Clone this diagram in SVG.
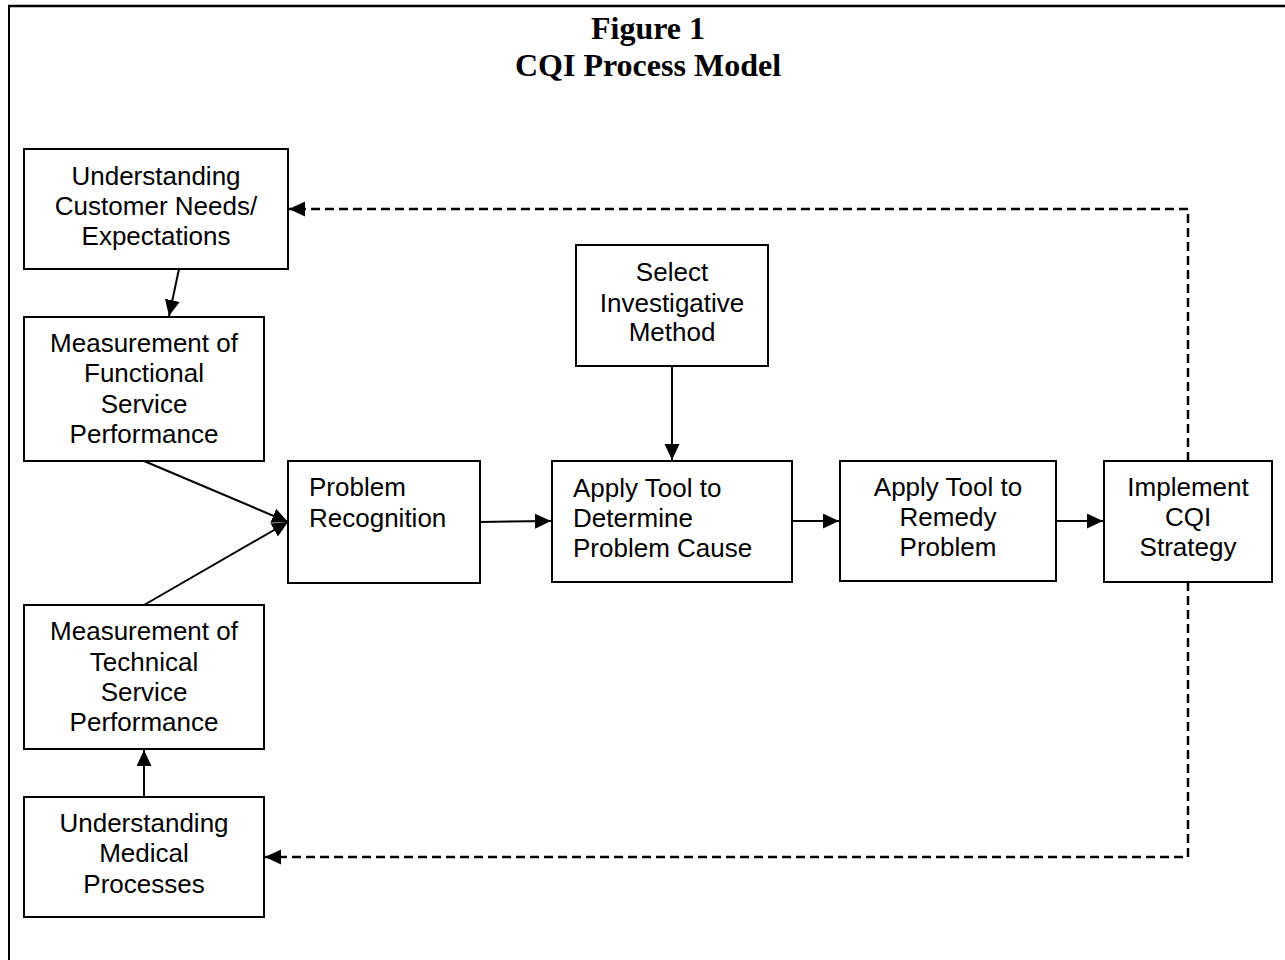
<svg xmlns="http://www.w3.org/2000/svg" width="1285" height="960" viewBox="0 0 1285 960">
  <style>
    .box { fill: #fff; stroke: #000; stroke-width: 2; }
    .lbl { font-family: "Liberation Sans", Arial, sans-serif; font-size: 26px; fill: #000; }
    .mid { text-anchor: middle; }
    .title { font-family: "Liberation Serif", "Times New Roman", serif; font-size: 32px; font-weight: bold; text-anchor: middle; fill: #000; }
    .link { fill: none; stroke: #000; stroke-width: 2; }
    .dash { stroke-width: 2.5; stroke-dasharray: 9 5; }
  </style>
  <defs>
    <marker id="arrow" markerUnits="userSpaceOnUse" markerWidth="17" markerHeight="16" refX="16" refY="7.5" orient="auto">
      <path d="M0,0 L16,7.5 L0,15 z" fill="#000"/>
    </marker>
  </defs>

  <rect width="1285" height="960" fill="#fff"/>

  <!-- page frame -->
  <g id="frame">
    <line x1="8" y1="6" x2="1285" y2="6" stroke="#000" stroke-width="2.5"/>
    <line x1="9" y1="5" x2="9" y2="960" stroke="#000" stroke-width="2"/>
  </g>

  <g id="heading">
    <text class="title" x="648" y="39">Figure 1</text>
    <text class="title" x="648" y="76">CQI Process Model</text>
  </g>

  <!-- connectors -->
  <g id="connectors">
    <line class="link" x1="179" y1="269" x2="169" y2="316" marker-end="url(#arrow)"/>
    <line class="link" x1="144" y1="461" x2="288" y2="522" marker-end="url(#arrow)"/>
    <line class="link" x1="144" y1="605" x2="288" y2="522" marker-end="url(#arrow)"/>
    <line class="link" x1="144" y1="797" x2="144" y2="750" marker-end="url(#arrow)"/>
    <line class="link" x1="480" y1="522" x2="551" y2="521" marker-end="url(#arrow)"/>
    <line class="link" x1="672" y1="366" x2="672" y2="460" marker-end="url(#arrow)"/>
    <line class="link" x1="792" y1="521" x2="839" y2="521" marker-end="url(#arrow)"/>
    <line class="link" x1="1056" y1="521" x2="1103" y2="521" marker-end="url(#arrow)"/>
    <polyline class="link dash" points="1188,461 1188,209 289,209" marker-end="url(#arrow)"/>
    <polyline class="link dash" points="1188,582 1188,857 265,857" marker-end="url(#arrow)"/>
  </g>

  <!-- nodes -->
  <g id="customer-needs">
    <rect class="box" x="24" y="149" width="264" height="120"/>
    <text class="lbl mid" x="156" y="185">Understanding</text>
    <text class="lbl mid" x="156" y="215">Customer Needs/</text>
    <text class="lbl mid" x="156" y="245">Expectations</text>
  </g>

  <g id="functional-performance">
    <rect class="box" x="24" y="317" width="240" height="144"/>
    <text class="lbl mid" x="144" y="352">Measurement of</text>
    <text class="lbl mid" x="144" y="382">Functional</text>
    <text class="lbl mid" x="144" y="413">Service</text>
    <text class="lbl mid" x="144" y="443">Performance</text>
  </g>

  <g id="technical-performance">
    <rect class="box" x="24" y="605" width="240" height="144"/>
    <text class="lbl mid" x="144" y="640">Measurement of</text>
    <text class="lbl mid" x="144" y="671">Technical</text>
    <text class="lbl mid" x="144" y="701">Service</text>
    <text class="lbl mid" x="144" y="731">Performance</text>
  </g>

  <g id="medical-processes">
    <rect class="box" x="24" y="797" width="240" height="120"/>
    <text class="lbl mid" x="144" y="832">Understanding</text>
    <text class="lbl mid" x="144" y="862">Medical</text>
    <text class="lbl mid" x="144" y="893">Processes</text>
  </g>

  <g id="problem-recognition">
    <rect class="box" x="288" y="461" width="192" height="122"/>
    <text class="lbl" x="309" y="496">Problem</text>
    <text class="lbl" x="309" y="527">Recognition</text>
  </g>

  <g id="select-method">
    <rect class="box" x="576" y="245" width="192" height="121"/>
    <text class="lbl mid" x="672" y="281">Select</text>
    <text class="lbl mid" x="672" y="312">Investigative</text>
    <text class="lbl mid" x="672" y="341">Method</text>
  </g>

  <g id="determine-cause">
    <rect class="box" x="552" y="461" width="240" height="121"/>
    <text class="lbl" x="573" y="497">Apply Tool to</text>
    <text class="lbl" x="573" y="527">Determine</text>
    <text class="lbl" x="573" y="557">Problem Cause</text>
  </g>

  <g id="remedy-problem">
    <rect class="box" x="840" y="461" width="216" height="120"/>
    <text class="lbl mid" x="948" y="496">Apply Tool to</text>
    <text class="lbl mid" x="948" y="526">Remedy</text>
    <text class="lbl mid" x="948" y="556">Problem</text>
  </g>

  <g id="implement-strategy">
    <rect class="box" x="1104" y="461" width="168" height="121"/>
    <text class="lbl mid" x="1188" y="496">Implement</text>
    <text class="lbl mid" x="1188" y="526">CQI</text>
    <text class="lbl mid" x="1188" y="556">Strategy</text>
  </g>
</svg>
